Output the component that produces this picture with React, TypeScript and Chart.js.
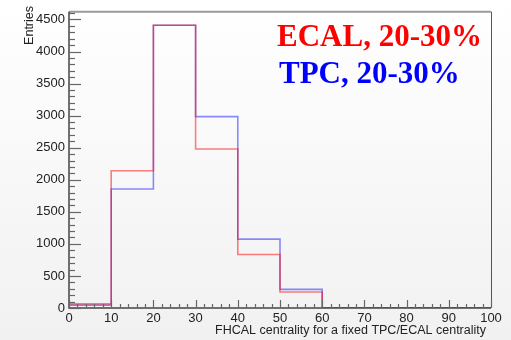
import React, { useEffect, useRef } from 'react';
import { Chart, registerables } from 'chart.js';

Chart.register(...registerables);

const binEdges = [0, 10, 20, 30, 40, 50, 60, 70, 80, 90, 100];
const ecalCounts = [65, 2140, 4410, 2480, 835, 250, 0, 0, 0, 0];
const tpcCounts = [45, 1855, 4410, 2985, 1075, 290, 0, 0, 0, 0];
const xTickValues = [0, 10, 20, 30, 40, 50, 60, 70, 80, 90, 100];
const yTickValues = [0, 500, 1000, 1500, 2000, 2500, 3000, 3500, 4000, 4500];
const xMin = 0;
const xMax = 100;
const yMin = 0;
const yMax = 4620;
const xTitle = 'FHCAL centrality for a fixed TPC/ECAL centrality';
const yTitle = 'Entries';
const ecalLabel = 'ECAL, 20-30%';
const tpcLabel = 'TPC, 20-30%';

function toSteps(counts: number[]) {
  const pts = counts.map((c, i) => ({ x: binEdges[i], y: c }));
  pts.push({ x: binEdges[binEdges.length - 1], y: counts[counts.length - 1] });
  return pts;
}

const rootStylePlugin = {
  id: 'rootStyle',
  afterDraw(chart: any) {
    const ctx = chart.ctx as CanvasRenderingContext2D;
    const { left, right, top, bottom } = chart.chartArea;
    const xs = chart.scales.x;
    const ys = chart.scales.y;
    ctx.save();
    // frame
    ctx.strokeStyle = '#9a9a9a';
    ctx.lineWidth = 2;
    ctx.beginPath();
    ctx.moveTo(left, top);
    ctx.lineTo(right, top);
    ctx.stroke();
    ctx.strokeStyle = '#555';
    ctx.lineWidth = 1;
    ctx.beginPath();
    ctx.moveTo(right + 0.5, top);
    ctx.lineTo(right + 0.5, bottom);
    ctx.stroke();
    // axes lines
    ctx.strokeStyle = '#444';
    ctx.lineWidth = 1.5;
    ctx.beginPath();
    ctx.moveTo(left, top);
    ctx.lineTo(left, bottom);
    ctx.lineTo(right, bottom);
    ctx.stroke();
    // y ticks (major every 500, minor every 100)
    const yMajor = yTickValues[1] - yTickValues[0];
    ctx.strokeStyle = '#666';
    ctx.lineWidth = 1.2;
    for (let v = yMin; v <= yMax; v += yMajor / 5) {
      const py = Math.round(ys.getPixelForValue(v)) + 0.5;
      const len = v % yMajor === 0 ? 12 : 6;
      ctx.beginPath();
      ctx.moveTo(left, py);
      ctx.lineTo(left + len, py);
      ctx.stroke();
    }
    // x ticks (major every 10, minor every 2)
    const xMajor = xTickValues[1] - xTickValues[0];
    for (let v = xMin; v <= xMax; v += xMajor / 5) {
      const px = Math.round(xs.getPixelForValue(v)) + 0.5;
      const len = v % xMajor === 0 ? 8 : 4;
      ctx.beginPath();
      ctx.moveTo(px, bottom);
      ctx.lineTo(px, bottom - len);
      ctx.stroke();
    }
    // axis titles
    ctx.fillStyle = '#222';
    ctx.font = '12.5px "Liberation Sans", Arial, sans-serif';
    ctx.textAlign = 'right';
    ctx.textBaseline = 'alphabetic';
    ctx.fillText(xTitle, 486, 334);
    ctx.save();
    ctx.translate(33, 6);
    ctx.rotate(-Math.PI / 2);
    ctx.textAlign = 'right';
    ctx.fillText(yTitle, 0, 0);
    ctx.restore();
    // legend texts
    ctx.textAlign = 'left';
    ctx.font = 'bold 31px "Liberation Serif", "Times New Roman", serif';
    ctx.fillStyle = '#ff0000';
    ctx.fillText(ecalLabel, 277, 46);
    ctx.fillStyle = '#0000ff';
    ctx.fillText(tpcLabel, 279, 83);
    ctx.restore();
  },
};

export default function App() {
  const canvasRef = useRef<HTMLCanvasElement>(null);

  useEffect(() => {
    document.body.style.margin = '0';
    const canvas = canvasRef.current;
    if (!canvas) return;
    const tickFont = { family: '"Liberation Sans", Arial, sans-serif', size: 13 };
    const chart = new Chart(canvas, {
      type: 'line',
      data: {
        datasets: [
          {
            label: ecalLabel,
            data: toSteps(ecalCounts),
            stepped: 'before',
            borderColor: 'rgba(255,0,0,0.5)',
            borderWidth: 1.6,
            pointRadius: 0,
            fill: false,
          },
          {
            label: tpcLabel,
            data: toSteps(tpcCounts),
            stepped: 'before',
            borderColor: 'rgba(0,0,255,0.45)',
            borderWidth: 1.6,
            pointRadius: 0,
            fill: false,
          },
        ],
      },
      options: {
        animation: false,
        responsive: false,
        devicePixelRatio: 1,
        layout: { padding: { top: 7, right: 20, left: 0, bottom: 0 } },
        plugins: { legend: { display: false }, tooltip: { enabled: false } },
        scales: {
          x: {
            type: 'linear',
            min: xMin,
            max: xMax,
            grid: { display: false, drawTicks: false },
            border: { display: false },
            ticks: {
              autoSkip: false,
              maxRotation: 0,
              padding: 3,
              color: '#222',
              font: tickFont,
            },
            afterBuildTicks: (s: any) => {
              s.ticks = xTickValues.map((v) => ({ value: v }));
            },
            afterFit: (s: any) => {
              s.height = 32;
            },
          },
          y: {
            type: 'linear',
            min: yMin,
            max: yMax,
            grid: { display: false, drawTicks: false },
            border: { display: false },
            ticks: {
              autoSkip: false,
              padding: 4,
              color: '#222',
              font: tickFont,
              callback: (v: any) => String(v),
            },
            afterBuildTicks: (s: any) => {
              s.ticks = yTickValues.map((v) => ({ value: v }));
            },
            afterFit: (s: any) => {
              s.width = 69;
            },
          },
        },
      },
      plugins: [rootStylePlugin],
    } as any);
    return () => chart.destroy();
  }, []);

  return (
    <div
      style={{
        position: 'absolute',
        left: 0,
        top: 0,
        width: 511,
        height: 340,
        background: 'linear-gradient(to bottom, #ffffff 0%, #f1f1f1 100%)',
      }}
    >
      <canvas ref={canvasRef} width={511} height={340} style={{ width: 511, height: 340, display: 'block' }} />
    </div>
  );
}
